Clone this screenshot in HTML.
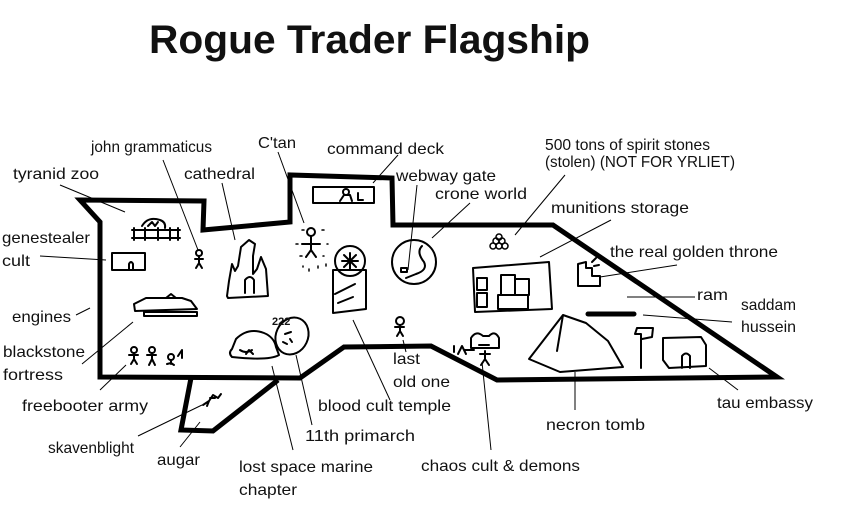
<!DOCTYPE html>
<html><head><meta charset="utf-8"><style>
html,body{margin:0;padding:0;background:#fff;width:846px;height:527px;overflow:hidden}
svg{display:block}
text{font-family:"Liberation Sans",sans-serif;font-size:16px;fill:#111}
</style></head><body>
<svg width="846" height="527" viewBox="0 0 846 527" xmlns="http://www.w3.org/2000/svg">
<text x="149" y="53" style="font-size:40px;font-weight:bold" textLength="441" lengthAdjust="spacingAndGlyphs">Rogue Trader Flagship</text>

<!-- hull -->
<g fill="none" stroke="#000" stroke-width="5" stroke-linejoin="miter">
<polygon points="80,200 204,201 203,230 290,222 290,175 392,178 393,225 553,225 777,377 497,380 431,346 344,347 300,378 100,377 100,222"/>
<polyline points="191,378 181,430 213,431 278,380"/>
</g>

<!-- leader lines -->
<g stroke="#000" stroke-width="1" fill="none">
<line x1="163" y1="160" x2="198" y2="250"/>
<line x1="278" y1="152" x2="304" y2="223"/>
<line x1="398" y1="155" x2="373" y2="183"/>
<line x1="222" y1="183" x2="235" y2="240"/>
<line x1="60" y1="185" x2="125" y2="212"/>
<line x1="417" y1="185" x2="408" y2="270"/>
<line x1="470" y1="203" x2="432" y2="238"/>
<line x1="565" y1="175" x2="515" y2="235"/>
<line x1="611" y1="220" x2="540" y2="257"/>
<line x1="677" y1="265" x2="600" y2="277"/>
<line x1="627" y1="297" x2="695" y2="297"/>
<line x1="643" y1="315" x2="732" y2="322"/>
<line x1="40" y1="256" x2="106" y2="260"/>
<line x1="76" y1="315" x2="90" y2="308"/>
<line x1="82" y1="364" x2="133" y2="322"/>
<line x1="100" y1="390" x2="126" y2="365"/>
<line x1="138" y1="436" x2="202" y2="405"/>
<line x1="180" y1="447" x2="200" y2="422"/>
<line x1="272" y1="366" x2="293" y2="450"/>
<line x1="296" y1="355" x2="312" y2="425"/>
<line x1="353" y1="320" x2="390" y2="400"/>
<line x1="403" y1="340" x2="406" y2="352"/>
<line x1="482" y1="362" x2="491" y2="450"/>
<line x1="575" y1="372" x2="575" y2="410"/>
<line x1="709" y1="368" x2="738" y2="390"/>
</g>

<!-- drawings -->
<g stroke="#000" stroke-width="2" fill="none" stroke-linecap="round" stroke-linejoin="round">
<!-- command deck -->
<rect x="313" y="187" width="61" height="16"/>
<circle cx="346" cy="192" r="3"/><path d="M340 201 l4-6 l6 0 l2 6 M358 193 v7 h5"/>
<!-- tyranid zoo -->
<path d="M132 230 h48 M132 238 h48 M134 228 v12 M145 228 v12 M158 228 v12 M170 228 v12 M178 228 v12 M142 226 q6-10 18-6 q6 2 5 8 M148 226 l4-4 l3 4 l3-4"/>
<!-- genestealer box -->
<path d="M112 253 h33 v17 h-33 z M129 270 v-6 q2-4 4 0 v6"/>
<!-- john -->
<circle cx="199" cy="253" r="3"/><path d="M199 256 v7 M195 259 h8 M199 263 l-3 5 M199 263 l3 5"/>
<!-- cathedral -->
<path d="M227 296 l2-15 l3-17 l3 7 l3-5 l3-19 l8-7 l6 4 l-2 12 l0 18 l4-5 l4-12 l5 12 l2 27 l-40 2 z M245 293 v-13 q5-6 9 0 v13"/>
<!-- C'tan -->
<circle cx="311" cy="232" r="4"/><path d="M311 236 v14 M302 244 h18 M311 250 l-5 7 M311 250 l5 7"/>
<g stroke-width="1.5"><path d="M302 230 h2 M322 230 h2 M296 244 h2 M327 244 h1 M300 256 h2 M323 256 h1 M309 269 v2 M318 266 v2 M303 266 v1 M326 264 v2"/></g>
<!-- blood cult temple -->
<circle cx="350" cy="261" r="15"/><path d="M342 261 h16 M350 253 v16 M344 255 l12 12 M356 255 l-12 12"/>
<path d="M333 270 h33 v39 l-33 4 z M335 294 l20-10 M338 303 l15-6"/>
<!-- crone world -->
<ellipse cx="414" cy="262" rx="22" ry="22"/><path d="M422 246 q-6 6 2 16 q4 8 -8 12 l-10 4 M401 268 h6 v4 h-6 z"/>
<!-- spirit stones -->
<g stroke-width="1.5"><circle cx="493" cy="246" r="3"/><circle cx="499" cy="246" r="3"/><circle cx="505" cy="246" r="3"/><circle cx="496" cy="241" r="3"/><circle cx="502" cy="241" r="3"/><circle cx="499" cy="237" r="3"/></g>
<!-- munitions -->
<path d="M473 268 l76-6 l3 47 l-77 3 z M501 275 h14 v20 h-14 z M515 279 h14 v16 h-14 z M498 295 h30 v14 h-30 z M477 278 h10 v12 h-10 z M477 293 h10 v14 h-10 z"/>
<path d="M586 262 v6 h6 v8 h8 v10 h-22 v-22 z M592 262 l4-4 M594 266 l5-1"/>
<!-- saddam -->
<path d="M588 314 h46" stroke-width="5"/>
<!-- necron pyramid -->
<path d="M529 359 l34-44 l23 8 l22 18 l15 26 l-63 5 z M563 315 l-6 36"/>
<!-- tau -->
<path d="M641 368 v-34 l-6 0 l2-6 h16 l-1 9 l-10 2"/>
<path d="M663 338 l38 -1 l5 8 v21 l-37 2 l-6-8 z M682 368 v-12 q4-5 8 0 v12"/>
<!-- blackstone fortress -->
<path d="M134 304 l12-6 h36 l9 3 l6 8 l-62 2 z M144 312 h53 v4 h-53 z M166 298 l5-4 l5 4"/>
<!-- freebooters -->
<circle cx="134" cy="350" r="3"/><path d="M134 353 v6 M129 355 h9 M134 359 l-3 5 M134 359 l3 5"/>
<circle cx="152" cy="350" r="3"/><path d="M152 353 v6 M147 355 h9 M152 359 l-3 6 M152 359 l3 6"/>
<circle cx="171" cy="357" r="3"/><path d="M171 360 v4 M167 364 l4-1 l3 2 M178 356 l4-6 l0 8"/>
<!-- lost space marine -->
<path d="M232 357 q-4-4 0-8 l4-10 q12-12 28-6 q10 4 12 14 l3 8 q-10 6 -47 2 z M240 350 q6 4 12 0 M246 354 l3-4 l4 4"/>
<ellipse cx="292" cy="336" rx="16" ry="19" transform="rotate(25 292 336)"/>
<path d="M285 334 l6-2 M290 339 l2 3 M283 342 l4 2"/>
<text x="272" y="325" style="font-size:11px;font-weight:bold;font-family:'Liberation Sans',sans-serif" stroke="none" fill="#000">222</text>
<!-- last old one -->
<circle cx="400" cy="321" r="4"/><path d="M400 325 v6 M395 327 h9 M400 331 l-3 5 M400 331 l3 5"/>
<!-- chaos cult -->
<path d="M471 338 q5-8 12-2 l6 0 q6-6 10 2 v10 h-28 z M479 345 h10 M485 351 v8 M480 354 h10 M485 359 l-4 6 M485 359 l4 6 M454 352 v-6 M458 354 l4-8 l4 8 M464 350 h10"/>
<!-- skaven -->
<path d="M203 405 l6-4 l4-6 l5 3 l3-4 M209 401 l-2 5 M210 398 h5"/>
</g>

<!-- labels -->
<text x="91" y="152" textLength="121" lengthAdjust="spacingAndGlyphs">john grammaticus</text>
<text x="258" y="148" textLength="38" lengthAdjust="spacingAndGlyphs">C'tan</text>
<text x="327" y="154" textLength="117" lengthAdjust="spacingAndGlyphs">command deck</text>
<text x="545" y="150" textLength="165" lengthAdjust="spacingAndGlyphs">500 tons of spirit stones</text>
<text x="545" y="167" textLength="190" lengthAdjust="spacingAndGlyphs">(stolen) (NOT FOR YRLIET)</text>
<text x="13" y="179" textLength="86" lengthAdjust="spacingAndGlyphs">tyranid zoo</text>
<text x="184" y="179" textLength="71" lengthAdjust="spacingAndGlyphs">cathedral</text>
<text x="396" y="181" textLength="100" lengthAdjust="spacingAndGlyphs">webway gate</text>
<text x="435" y="199" textLength="92" lengthAdjust="spacingAndGlyphs">crone world</text>
<text x="551" y="213" textLength="138" lengthAdjust="spacingAndGlyphs">munitions storage</text>
<text x="2" y="243" textLength="88" lengthAdjust="spacingAndGlyphs">genestealer</text>
<text x="2" y="266" textLength="28" lengthAdjust="spacingAndGlyphs">cult</text>
<text x="610" y="257" textLength="168" lengthAdjust="spacingAndGlyphs">the real golden throne</text>
<text x="697" y="300" textLength="31" lengthAdjust="spacingAndGlyphs">ram</text>
<text x="741" y="310" textLength="55" lengthAdjust="spacingAndGlyphs">saddam</text>
<text x="741" y="332" textLength="55" lengthAdjust="spacingAndGlyphs">hussein</text>
<text x="12" y="322" textLength="59" lengthAdjust="spacingAndGlyphs">engines</text>
<text x="3" y="357" textLength="82" lengthAdjust="spacingAndGlyphs">blackstone</text>
<text x="3" y="380" textLength="60" lengthAdjust="spacingAndGlyphs">fortress</text>
<text x="393" y="364" textLength="27" lengthAdjust="spacingAndGlyphs">last</text>
<text x="393" y="387" textLength="57" lengthAdjust="spacingAndGlyphs">old one</text>
<text x="22" y="411" textLength="126" lengthAdjust="spacingAndGlyphs">freebooter army</text>
<text x="318" y="411" textLength="133" lengthAdjust="spacingAndGlyphs">blood cult temple</text>
<text x="717" y="408" textLength="96" lengthAdjust="spacingAndGlyphs">tau embassy</text>
<text x="546" y="430" textLength="99" lengthAdjust="spacingAndGlyphs">necron tomb</text>
<text x="305" y="441" textLength="110" lengthAdjust="spacingAndGlyphs">11th primarch</text>
<text x="48" y="453" textLength="86" lengthAdjust="spacingAndGlyphs">skavenblight</text>
<text x="157" y="465" textLength="43" lengthAdjust="spacingAndGlyphs">augar</text>
<text x="421" y="471" textLength="159" lengthAdjust="spacingAndGlyphs">chaos cult &amp; demons</text>
<text x="239" y="472" textLength="134" lengthAdjust="spacingAndGlyphs">lost space marine</text>
<text x="239" y="495" textLength="58" lengthAdjust="spacingAndGlyphs">chapter</text>
</svg>
</body></html>
